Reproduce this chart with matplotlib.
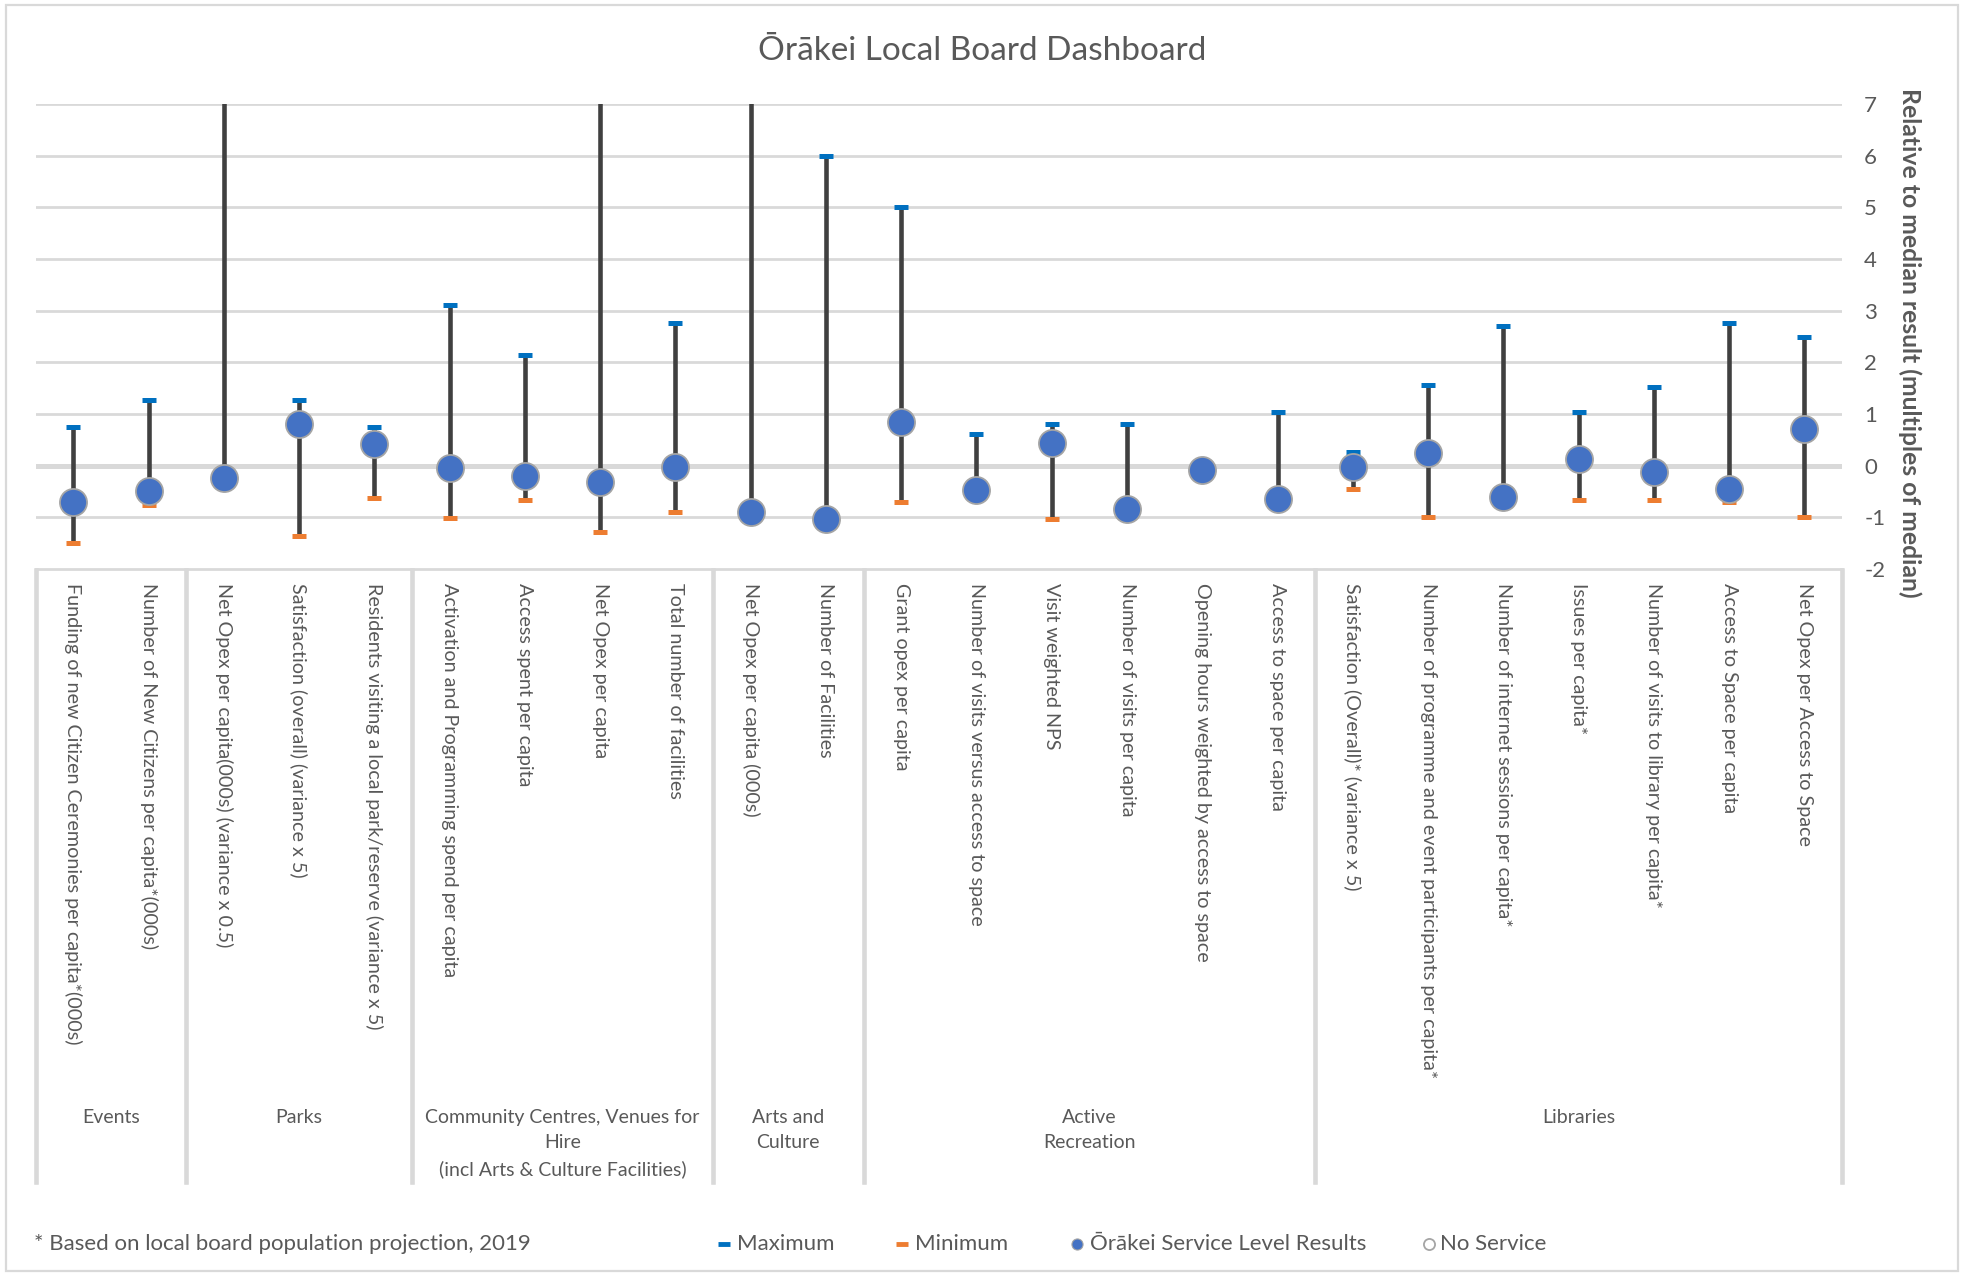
import matplotlib
matplotlib.use("Agg")
import matplotlib.pyplot as plt
import matplotlib.transforms as mtransforms
from matplotlib.lines import Line2D
from matplotlib.patches import Rectangle

plt.rcParams['font.family'] = ['Lato', 'DejaVu Sans']

# ---- data -------------------------------------------------------------
measures = [
    "Funding of new Citizen Ceremonies per capita*(000s)",
    "Number of New Citizens per capita*(000s)",
    "Net Opex per capita(000s) (variance x 0.5)",
    "Satisfaction (overall) (variance x 5)",
    "Residents visiting a local park/reserve (variance x 5)",
    "Activation and Programming spend per capita",
    "Access spent per capita",
    "Net Opex per capita",
    "Total number of facilities",
    "Net Opex per capita (000s)",
    "Number of Facilities",
    "Grant opex per capita",
    "Number of visits versus access to space",
    "Visit weighted NPS",
    "Number of visits per capita",
    "Opening hours weighted by access to space",
    "Access to space per capita",
    "Satisfaction (Overall)* (variance x 5)",
    "Number of programme and event participants per capita*",
    "Number of internet sessions per capita*",
    "Issues per capita*",
    "Number of visits to library per capita*",
    "Access to Space per capita",
    "Net Opex per Access to Space",
]

maximum = [0.75, 1.27, 10.0, 1.27, 0.75, 3.11, 2.14, 9.0, 2.76, 8.5, 6.0, 5.0,
           0.61, 0.81, 0.81, 0.05, 1.03, 0.27, 1.57, 2.71, 1.03, 1.52, 2.77, 2.49]
minimum = [-1.50, -0.76, -0.30, -1.37, -0.63, -1.01, -0.66, -1.28, -0.90, -0.95,
           -1.05, -0.71, -0.55, -1.03, -0.90, -0.15, -0.75, -0.45, -1.00, -0.70,
           -0.66, -0.66, -0.71, -1.00]
orakei = [-0.70, -0.50, -0.23, 0.81, 0.41, -0.05, -0.20, -0.32, -0.02, -0.90,
          -1.03, 0.84, -0.47, 0.43, -0.83, -0.08, -0.65, -0.02, 0.25, -0.61,
          0.12, -0.12, -0.46, 0.70]

groups = ["Events", "Parks",
          "Community Centres, Venues for\nHire\n(incl Arts & Culture Facilities)",
          "Arts and\nCulture", "Active\nRecreation", "Libraries"]
group_sizes = [2, 3, 4, 2, 6, 7]

y_ticks = [-2, -1, 0, 1, 2, 3, 4, 5, 6, 7]

# ---- style -----------------------------------------------------------
TEXT = "#595959"
GRID = "#D9D9D9"
BLUE = "#4472C4"
MAXC = "#0070C0"
MINC = "#ED7D31"
LINE = "#404040"

W, H = 1962, 1274
fig = plt.figure(figsize=(W / 100, H / 100), dpi=100)


def fx(px):
    return px / W


def fy(py):
    return 1 - py / H


ax = fig.add_axes([fx(35.7), fy(569), fx(1842) - fx(35.7), fy(104) - fy(569)])
n = len(measures)
xs = list(range(n))
ax.set_xlim(-0.5, n - 0.5)
ax.set_ylim(-2, 7)

for s in ["top", "left", "right"]:
    ax.spines[s].set_visible(False)
ax.spines["bottom"].set_color(GRID)
ax.spines["bottom"].set_linewidth(2.0)

# gridlines
for v in y_ticks[1:]:
    ax.axhline(v, color=GRID, lw=3.6 if v == 0 else 2.0, zorder=0)

# hi-lo lines, max/min ticks and results
ax.vlines(xs, minimum, maximum, color=LINE, lw=3.3, zorder=2)
ax.plot(xs, maximum, ls="none", marker="_", ms=10.5, mew=3.6, color=MAXC, zorder=3)
ax.plot(xs, minimum, ls="none", marker="_", ms=10.5, mew=3.6, color=MINC, zorder=3)
ax.plot(xs, orakei, ls="none", marker="o", ms=19.5, mfc=BLUE, mec="#A5A5A5",
        mew=1.3, zorder=4)

# y axis on the right
ax.set_xticks([])
ax.yaxis.tick_right()
ax.set_yticks(y_ticks)
ax.set_yticklabels([str(v) for v in y_ticks])
ax.tick_params(axis="y", length=0, pad=16, labelsize=16, labelcolor=TEXT)
fig.text(fx(1910), fy(343), "Relative to median result (multiples of median)",
         rotation=270, ha="center", va="center", fontsize=17.8, color=TEXT,
         fontweight="bold")

# title
fig.text(fx(982), fy(51), "Ōrākei Local Board Dashboard", ha="center",
         va="center", fontsize=24, color=TEXT)

# category labels and group table
trans = mtransforms.blended_transform_factory(ax.transData, fig.transFigure)
for x, lab in zip(xs, measures):
    ax.text(x, fy(583), lab, transform=trans, rotation=270, ha="center",
            va="top", fontsize=14.2, color=TEXT, clip_on=False)

edges = [-0.5]
for size in group_sizes:
    edges.append(edges[-1] + size)
for e in edges:
    ax.add_line(Line2D([e, e], [fy(570), fy(1182)], transform=trans,
                       color=GRID, lw=3.3, clip_on=False, zorder=1))
for g, a, b in zip(groups, edges[:-1], edges[1:]):
    ax.text((a + b) / 2, fy(1109), g, transform=trans, ha="center", va="top",
            fontsize=14, color=TEXT, linespacing=1.6, multialignment="center")

# footnote and legend
fig.text(fx(34), fy(1244), "* Based on local board population projection, 2019",
         ha="left", va="center", fontsize=16, color=TEXT)
legend_items = [
    (724, 737, "Maximum", dict(marker="_", ms=8, mew=3.5, color=MAXC)),
    (902, 915, "Minimum", dict(marker="_", ms=8, mew=3.5, color=MINC)),
    (1077, 1090, "Ōrākei Service Level Results",
     dict(marker="o", ms=8, mfc=BLUE, mec="#A5A5A5", mew=0.8)),
    (1429, 1440, "No Service",
     dict(marker="o", ms=8, mfc="white", mec="#A5A5A5", mew=1.3)),
]
for mx, tx, lab, kw in legend_items:
    fig.add_artist(Line2D([fx(mx)], [fy(1244)], transform=fig.transFigure,
                          ls="none", **kw))
    fig.text(fx(tx), fy(1244), lab, ha="left", va="center", fontsize=16,
             color=TEXT)

# chart border
fig.add_artist(Rectangle((fx(6), fy(1271)), fx(1958) - fx(6), fy(5) - fy(1271),
                         transform=fig.transFigure, fill=False, ec=GRID, lw=1.6))

fig.savefig("out.png", dpi=100)
